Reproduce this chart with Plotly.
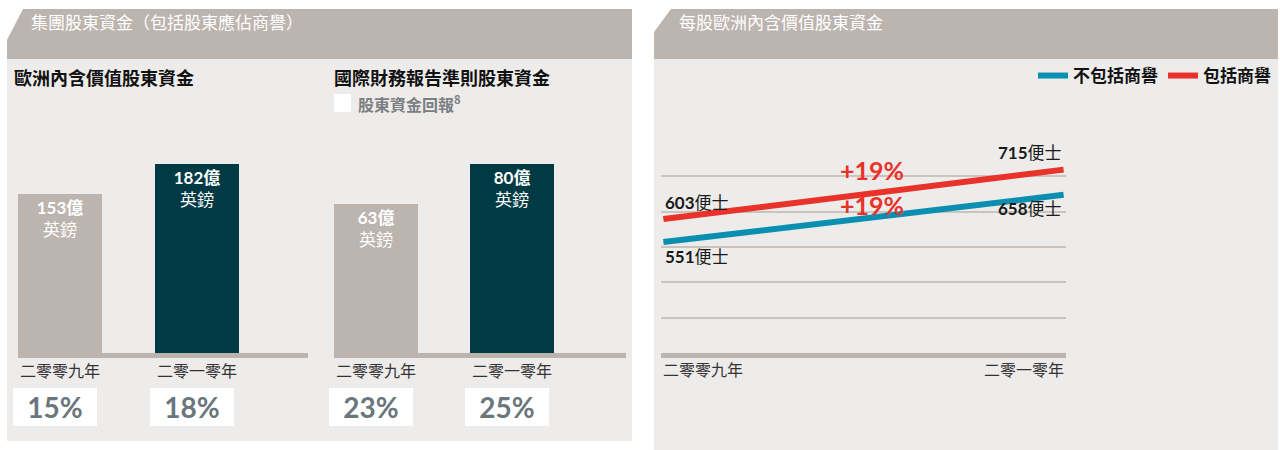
import plotly.graph_objects as go

# ---------------- data ----------------
years = ["二零零九年", "二零一零年"]
eev_equity = [153, 182]          # 歐洲內含價值股東資金 (億英鎊)
ifrs_equity = [63, 80]           # 國際財務報告準則股東資金 (億英鎊)
eev_roe = ["15%", "18%"]         # 股東資金回報
ifrs_roe = ["23%", "25%"]
per_share_excl = [551, 658]      # 不包括商譽 (便士)
per_share_incl = [603, 715]      # 包括商譽 (便士)
growth_excl = "+19%"
growth_incl = "+19%"

# ---------------- styling ----------------
W, H = 1280, 450
HEAD = "#bcb4ae"
BODY = "#eeecea"
DARK = "#003a45"
RED = "#e8322a"
BLUE = "#0a8fb0"
GRID = "#cbc4be"
CJK = "Noto Sans CJK TC"
NUM = "Lato, 'Noto Sans CJK TC', sans-serif"


def px(x):
    return x / W


def py(y):
    return 1 - y / H


fig = go.Figure()

# bar charts
bar_colors = [HEAD, DARK]
fig.add_trace(go.Bar(
    x=[0, 1], y=eev_equity, width=0.613, marker=dict(color=bar_colors, line=dict(width=0)),
    texttemplate="<b>%{y}億</b><br>英鎊", textposition="inside", insidetextanchor="end",
    textangle=0, constraintext="none",
    insidetextfont=dict(color="white", size=17, family=NUM),
    xaxis="x", yaxis="y", showlegend=False, hoverinfo="skip"))
fig.add_trace(go.Bar(
    x=[0, 1], y=ifrs_equity, width=0.613, marker=dict(color=bar_colors, line=dict(width=0)),
    texttemplate="<b>%{y}億</b><br>英鎊", textposition="inside", insidetextanchor="end",
    textangle=0, constraintext="none",
    insidetextfont=dict(color="white", size=17, family=NUM),
    xaxis="x2", yaxis="y2", showlegend=False, hoverinfo="skip"))

# line chart
fig.add_trace(go.Scatter(
    x=[0, 1], y=per_share_excl, mode="lines", name="不包括商譽",
    line=dict(color=BLUE, width=6), xaxis="x3", yaxis="y3", hoverinfo="skip"))
fig.add_trace(go.Scatter(
    x=[0, 1], y=per_share_incl, mode="lines", name="包括商譽",
    line=dict(color=RED, width=6), xaxis="x3", yaxis="y3", hoverinfo="skip"))

shapes = [
    dict(type="path", xref="paper", yref="paper", layer="below", line=dict(width=0), fillcolor=HEAD,
         path=f"M {px(7)},{py(40)} L {px(23)},{py(9)} L {px(632)},{py(9)} L {px(632)},{py(59)} L {px(7)},{py(59)} Z"),
    dict(type="rect", xref="paper", yref="paper", layer="below", line=dict(width=0), fillcolor=BODY,
         x0=px(7), x1=px(632), y0=py(441), y1=py(59)),
    dict(type="path", xref="paper", yref="paper", layer="below", line=dict(width=0), fillcolor=HEAD,
         path=f"M {px(654)},{py(32)} L {px(671)},{py(9)} L {px(1278)},{py(9)} L {px(1278)},{py(59)} L {px(654)},{py(59)} Z"),
    dict(type="rect", xref="paper", yref="paper", layer="below", line=dict(width=0), fillcolor=BODY,
         x0=px(654), x1=px(1278), y0=py(450), y1=py(59)),
    # legend square for ROE
    dict(type="rect", xref="paper", yref="paper", layer="below", line=dict(width=0), fillcolor="white",
         x0=px(334), x1=px(351), y0=py(112), y1=py(94)),
]

annotations = [
    dict(text="集團股東資金（包括股東應佔商譽）", x=px(29), y=py(22), xref="paper", yref="paper",
         xanchor="left", yanchor="middle", showarrow=False, font=dict(family=CJK, size=17, color="white")),
    dict(text="每股歐洲內含價值股東資金", x=px(677), y=py(22), xref="paper", yref="paper",
         xanchor="left", yanchor="middle", showarrow=False, font=dict(family=CJK, size=17, color="white")),
    dict(text="<b>歐洲內含價值股東資金</b>", x=px(12), y=py(77), xref="paper", yref="paper",
         xanchor="left", yanchor="middle", showarrow=False, font=dict(family=CJK, size=18, color="#111")),
    dict(text="<b>國際財務報告準則股東資金</b>", x=px(332), y=py(77), xref="paper", yref="paper",
         xanchor="left", yanchor="middle", showarrow=False, font=dict(family=CJK, size=18, color="#111")),
    dict(text="<b>股東資金回報<sup>8</sup></b>", x=px(356), y=py(104), xref="paper", yref="paper",
         xanchor="left", yanchor="middle", showarrow=False, font=dict(family=CJK, size=16, color="#7b7f83")),
]

# ROE boxes
for axis, vals in (("x", eev_roe), ("x2", ifrs_roe)):
    for i, v in enumerate(vals):
        annotations.append(dict(
            text=f"<b>{v}</b>", x=i, xref=axis, y=py(407), yref="paper", xshift=-5,
            xanchor="center", yanchor="middle", showarrow=False, width=84, height=38,
            bgcolor="white", borderpad=0, borderwidth=0,
            font=dict(family=NUM, size=28, color="#6b767d")))

# line chart value labels
for series, above in ((per_share_incl, True), (per_share_excl, False)):
    for i, v in enumerate(series):
        annotations.append(dict(
            text=f"<b>{v}</b>便士", x=i, y=v, xref="x3", yref="y3",
            xanchor="left" if i == 0 else "right", yanchor="middle",
            yshift=17 if above else -14, showarrow=False,
            font=dict(family=NUM, size=17, color="#1a1a1a")))

# growth labels
annotations.append(dict(text=f"<b>{growth_incl}</b>", x=0.52, y=sum(per_share_incl) / 2, xref="x3", yref="y3",
                        yshift=24, showarrow=False, font=dict(family=NUM, size=25, color=RED)))
annotations.append(dict(text=f"<b>{growth_excl}</b>", x=0.52, y=sum(per_share_excl) / 2, xref="x3", yref="y3",
                        yshift=13, showarrow=False, font=dict(family=NUM, size=25, color=RED)))

# line chart x labels
for i, t in enumerate(years):
    annotations.append(dict(text=t, x=i, xref="x3", y=py(369), yref="paper",
                            xanchor="left" if i == 0 else "right", yanchor="middle",
                            xshift=-2 if i == 0 else 2, showarrow=False,
                            font=dict(family=CJK, size=16, color="#333")))

bar_x_common = dict(tickvals=[0, 1], ticktext=years, showline=True, linewidth=5, linecolor=HEAD,
                    ticks="", showgrid=False, zeroline=False, fixedrange=True,
                    tickfont=dict(family=CJK, size=16, color="#333"))
bar_y_common = dict(visible=False, showgrid=False, zeroline=False, fixedrange=True)

fig.update_layout(
    width=W, height=H, margin=dict(l=0, r=0, t=0, b=0),
    paper_bgcolor="white", plot_bgcolor="rgba(0,0,0,0)",
    bargap=0, showlegend=True,
    legend=dict(orientation="h", x=px(1276), xanchor="right", y=py(76), yanchor="middle",
                bgcolor="rgba(0,0,0,0)", itemwidth=30, tracegroupgap=0,
                font=dict(family=CJK, size=17, color="#111", weight=700)),
    xaxis=dict(domain=[px(18), px(308)], range=[-0.3066, 1.810], anchor="y", **bar_x_common),
    yaxis=dict(domain=[py(353), py(145)], range=[0, 200], anchor="x", **bar_y_common),
    xaxis2=dict(domain=[px(334), px(626)], range=[-0.309, 1.838], anchor="y2", **bar_x_common),
    yaxis2=dict(domain=[py(353), py(145)], range=[0, 88], anchor="x2", **bar_y_common),
    xaxis3=dict(domain=[px(661), px(1066)], range=[-0.006, 1.006], anchor="y3", showline=True,
                linewidth=5, linecolor=HEAD, showticklabels=False, ticks="", showgrid=False,
                zeroline=False, fixedrange=True),
    yaxis3=dict(domain=[py(353), py(140)], range=[300, 782], anchor="x3", tick0=300, dtick=80,
                showgrid=True, gridcolor=GRID, gridwidth=2, showticklabels=False, ticks="",
                zeroline=False, showline=False, fixedrange=True),
    shapes=shapes, annotations=annotations,
)

fig.write_html("out.html", config={"displayModeBar": False, "staticPlot": True},
               post_script="document.body.style.margin='0px';")
